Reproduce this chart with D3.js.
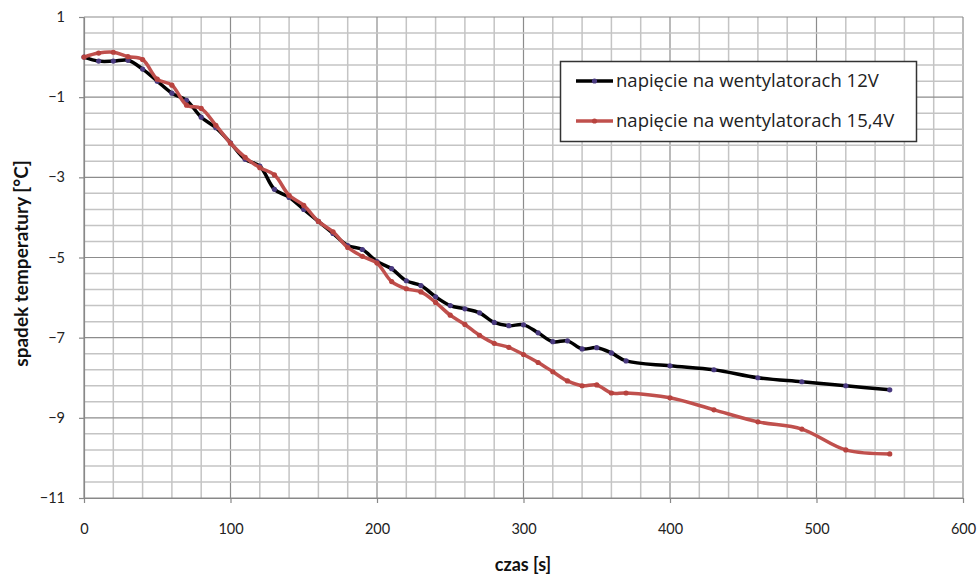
<!DOCTYPE html>
<html>
<head>
<meta charset="utf-8">
<script src="https://cdn.jsdelivr.net/npm/d3@7"></script>
<style>
  html, body { margin: 0; padding: 0; background: #fff; }
  svg { display: block; }
</style>
</head>
<body>
<svg id="chart" width="979" height="577"></svg>
<script>
// Time (s) at which each reading was taken
const czas = [0, 10, 20, 30, 40, 50, 60, 70, 80, 90, 100, 110, 120, 130, 140, 150, 160, 170, 180, 190,
  200, 210, 220, 230, 240, 250, 260, 270, 280, 290, 300, 310, 320, 330, 340, 350, 360, 370,
  400, 430, 460, 490, 520, 550];

// Temperature drop [°C], fans at 12 V
const spadek12V = [0, -0.1, -0.1, -0.08, -0.3, -0.6, -0.9, -1.08, -1.5, -1.76, -2.14, -2.55, -2.72, -3.3, -3.5, -3.8,
  -4.1, -4.4, -4.7, -4.8, -5.1, -5.28, -5.58, -5.7, -5.98, -6.2, -6.28, -6.38, -6.62, -6.7, -6.68, -6.88,
  -7.1, -7.08, -7.28, -7.25, -7.38, -7.58, -7.7, -7.8, -8.0, -8.1, -8.2, -8.3];

// Temperature drop [°C], fans at 15,4 V
const spadek154V = [0, 0.1, 0.12, 0.01, -0.06, -0.55, -0.7, -1.2, -1.28, -1.7, -2.15, -2.5, -2.76, -2.94, -3.45, -3.7,
  -4.1, -4.36, -4.75, -4.97, -5.14, -5.6, -5.78, -5.86, -6.12, -6.44, -6.67, -6.94, -7.14, -7.24, -7.42, -7.62,
  -7.85, -8.08, -8.2, -8.18, -8.38, -8.38, -8.5, -8.8, -9.1, -9.28, -9.8, -9.9];

const seriesNames = ["napięcie na wentylatorach 12V", "napięcie na wentylatorach 15,4V"];
const xTicks = [0, 100, 200, 300, 400, 500, 600];
const yTicks = [1, -1, -3, -5, -7, -9, -11];

const svg = d3.select("#chart");
const plotL = 84, plotR = 963, plotT = 17, plotB = 498;
const font = "Lato, 'Open Sans', sans-serif";

const x = d3.scaleLinear().domain([0, 600]).range([plotL, plotR]);
const y = d3.scaleLinear().domain([-11, 1]).range([plotB, plotT]);

// Grid: minor every 20 s / 0.4 °C, major every 100 s / 2 °C
const grid = svg.append("g");
const vMinor = d3.range(0, 601, 20);
const hMinor = d3.range(0, 31).map(i => -11 + i * 0.4);
grid.selectAll("line.vm").data(vMinor).join("line")
  .attr("x1", d => x(d)).attr("x2", d => x(d))
  .attr("y1", plotT).attr("y2", plotB)
  .attr("stroke", d => d % 100 === 0 ? "#8c8c8c" : "#c4c4c4")
  .attr("stroke-width", d => d % 100 === 0 ? 1.2 : 1.5);
grid.selectAll("line.hm").data(hMinor).join("line")
  .attr("x1", plotL).attr("x2", plotR)
  .attr("y1", d => y(d)).attr("y2", d => y(d))
  .attr("stroke", (d, i) => i % 5 === 0 ? "#8c8c8c" : "#c4c4c4")
  .attr("stroke-width", (d, i) => i % 5 === 0 ? 1.2 : 1.5);

// Axes
const xAxis = svg.append("g")
  .attr("transform", `translate(0,${plotB})`)
  .call(d3.axisBottom(x).tickValues(xTicks).tickSize(5).tickPadding(21).tickSizeOuter(0));
const yAxis = svg.append("g")
  .attr("transform", `translate(${plotL},0)`)
  .call(d3.axisLeft(y).tickValues(yTicks).tickSize(5).tickPadding(14).tickSizeOuter(0));
[xAxis, yAxis].forEach(a => {
  a.select(".domain").attr("stroke", "#888").attr("stroke-width", 1.2);
  a.selectAll(".tick line").attr("stroke", "#888").attr("stroke-width", 1.2);
  a.selectAll(".tick text").attr("fill", "#222")
    .style("font-family", font).style("font-size", "14.5px");
});

// Axis titles
svg.append("text")
  .attr("x", 523).attr("y", 571)
  .attr("text-anchor", "middle")
  .style("font-family", font).style("font-size", "18px").style("font-weight", "bold")
  .attr("fill", "#111")
  .text("czas [s]");
svg.append("text")
  .attr("transform", `translate(28,${(plotT + plotB) / 2 + 6}) rotate(-90)`)
  .attr("text-anchor", "middle")
  .style("font-family", font).style("font-size", "19px").style("font-weight", "bold")
  .attr("fill", "#111")
  .text("spadek temperatury [°C]");

// Series
const series = [
  { name: seriesNames[0], values: spadek12V, color: "#000000", marker: "#4a3a80" },
  { name: seriesNames[1], values: spadek154V, color: "#c0504d", marker: "#b8433f" }
];
const line = d3.line()
  .x(d => x(d[0])).y(d => y(d[1]))
  .curve(d3.curveCatmullRom.alpha(0.5));

series.forEach(s => {
  const pts = czas.map((t, i) => [t, s.values[i]]);
  const g = svg.append("g");
  g.append("path").datum(pts)
    .attr("d", line)
    .attr("fill", "none")
    .attr("stroke", s.color)
    .attr("stroke-width", 3.5)
    .attr("stroke-linejoin", "round")
    .attr("stroke-linecap", "round");
  g.selectAll("circle").data(pts).join("circle")
    .attr("cx", d => x(d[0])).attr("cy", d => y(d[1]))
    .attr("r", 2.6)
    .attr("fill", s.marker);
});

// Legend
const legend = svg.append("g");
legend.append("rect")
  .attr("x", 560.5).attr("y", 61.5).attr("width", 356).attr("height", 80)
  .attr("fill", "#fff").attr("stroke", "#333").attr("stroke-width", 1.5);
series.forEach((s, i) => {
  const ly = 81 + i * 40;
  legend.append("line")
    .attr("x1", 576).attr("x2", 613).attr("y1", ly).attr("y2", ly)
    .attr("stroke", s.color).attr("stroke-width", 3.5);
  legend.append("circle").attr("cx", 594.5).attr("cy", ly).attr("r", 2.6).attr("fill", s.marker);
  legend.append("text")
    .attr("x", 616).attr("y", ly).attr("dy", "0.35em")
    .style("font-family", "'Open Sans', Lato, sans-serif").style("font-size", "18.5px")
    .attr("fill", "#222")
    .text(s.name);
});
</script>
</body>
</html>
